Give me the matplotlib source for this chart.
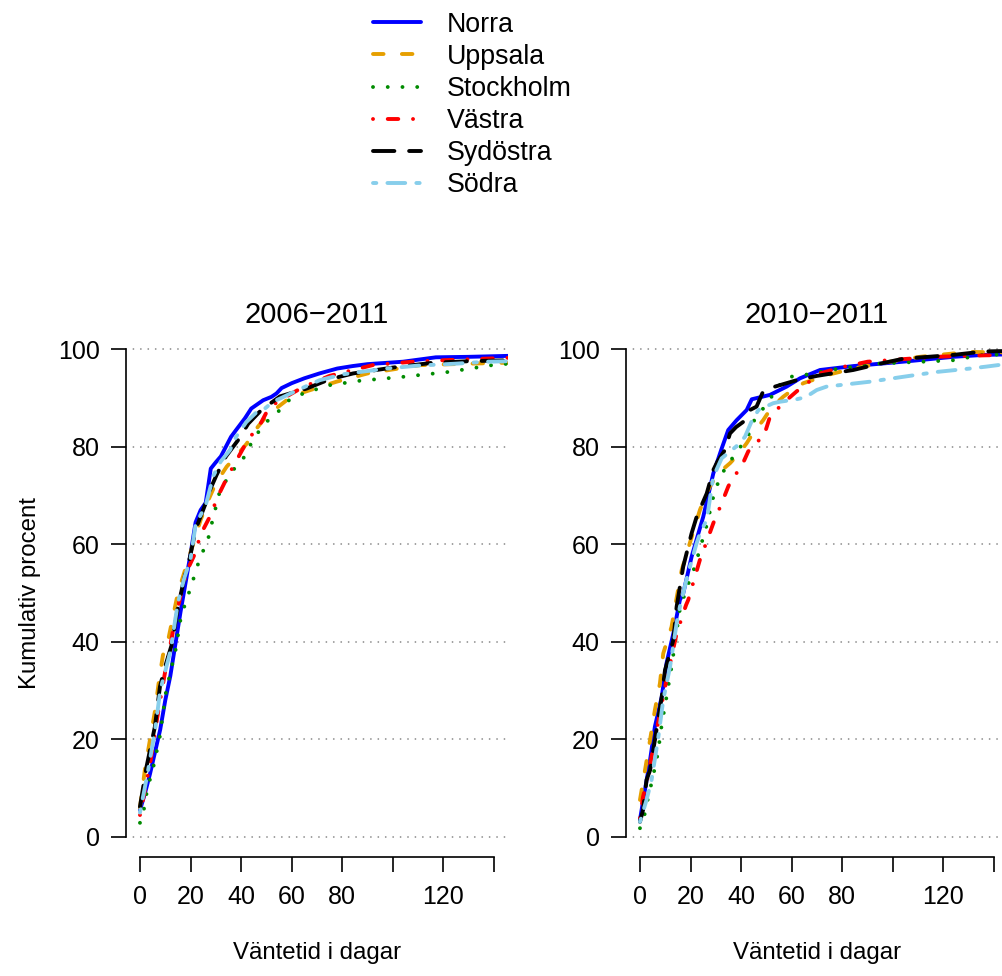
import matplotlib
matplotlib.use('Agg')
import matplotlib.pyplot as plt
from matplotlib.lines import Line2D

plt.rcParams['font.family'] = ['Liberation Sans', 'DejaVu Sans']

regions = ['Norra', 'Uppsala', 'Stockholm', 'Västra', 'Sydöstra', 'Södra']
colors = ['blue', '#E69F00', '#008B00', 'red', 'black', '#87CEEB']
# R line types: solid, dashed "44", dotted "13", dotdash "1343", longdash "73", twodash "2262"
rlty = [None, [4, 4], [1, 3], [1, 3, 4, 3], [7, 3], [2, 2, 6, 2]]
titles = ['2006\u22122011', '2010\u22122011']
xticks = [0, 20, 40, 60, 80, 100, 120, 140]
xticklabels = ['0', '20', '40', '60', '80', '', '120', '']
yticks = [0, 20, 40, 60, 80, 100]

# ---- 2006-2011 ----
norra_x_a = [0, 2, 4, 6, 8, 10, 12, 14, 16, 18, 20, 22, 24, 26, 28, 30, 32, 34, 36, 38, 41.5, 44, 48.7, 52, 54, 56, 60, 65, 71, 78, 84, 90, 104, 117, 130, 146, 160]
norra_y_a = [5.5, 9, 13, 17.5, 22, 28, 33, 39.5, 46, 52, 58, 64.5, 67, 68.5, 75.5, 76.8, 78, 80, 82, 83.4, 85.8, 87.8, 89.5, 90.2, 90.9, 92, 93, 94, 95, 96, 96.5, 96.9, 97.4, 98.3, 98.4, 98.6, 98.7]
upps_x_a = [0, 2, 3.95, 6, 7.5, 9.1, 11, 13, 15, 18, 21, 24, 27, 30, 34.3, 38, 42.2, 45, 48.7, 53, 58, 65, 77.7, 90, 110.7, 130, 146, 160]
upps_y_a = [6, 14, 19.9, 26, 32, 37.3, 40, 45, 50, 55, 60, 65, 69, 72.5, 75.9, 78, 80.6, 83, 85.4, 87.5, 89.5, 91.2, 93.3, 95, 96.7, 97, 97.2, 97.4]
sthlm_x_a = [0, 1.6, 2.6, 3.95, 5.5, 7.9, 10.3, 14.2, 16.1, 18, 20, 23, 27.3, 28.6, 31.4, 34, 37.6, 41.3, 43.9, 47.1, 50.7, 54.9, 58.6, 65, 75.1, 87, 104, 122, 139.3, 146, 160]
sthlm_y_a = [2.9, 5.8, 8.9, 11.8, 14.8, 20.7, 29.8, 38.6, 44.8, 48, 51, 56, 61.7, 64.7, 70.5, 73, 75.7, 77.9, 80.6, 83.2, 85.4, 87.3, 89.4, 91, 92.6, 93.5, 94.3, 95.3, 96.7, 97, 97.2]
vast_x_a = [0, 4, 7, 10, 13, 16.5, 19, 21.7, 24, 27.7, 31, 34.3, 38, 41.5, 45, 48, 51, 57, 64.5, 75, 92, 110, 130, 146, 160]
vast_y_a = [4.5, 15, 25, 34, 42, 50.6, 55, 58, 62, 65.7, 70, 73.5, 77, 80.3, 83, 85, 88, 90, 92.2, 94.5, 96.7, 97.5, 97.9, 98.2, 98.4]
sydo_x_a = [0, 2.6, 5.9, 7.9, 10, 12.5, 15, 17.5, 19.8, 22, 25.7, 28, 30.3, 34, 38.9, 42.8, 48, 55.4, 60, 65.9, 75, 84.3, 100, 116, 130, 146, 160]
sydo_y_a = [6.2, 14.4, 22.6, 30.8, 35, 39.3, 47, 53, 57.4, 63, 68, 71.5, 74.2, 78, 81.4, 84.7, 87.5, 90.3, 91, 91.9, 93.8, 95, 96.2, 97.2, 97.5, 97.7, 97.9]
sodra_x_a = [0, 3, 6, 8, 10, 12, 15, 17.5, 20, 22, 26, 29, 32, 35.6, 38, 42, 46, 48.7, 52.6, 56, 62, 71, 80, 90, 97.5, 110, 125, 137, 146, 160]
sodra_y_a = [5, 13, 22, 30, 34, 38, 48, 53, 57, 64, 68, 74, 77, 79.3, 82, 85, 87, 87.5, 89.2, 90, 91.5, 93.6, 94.8, 95.5, 96, 96.6, 97, 97.4, 97.5, 97.7]

# ---- 2010-2011 ----
norra_x_b = [0, 1.3, 4, 5.9, 8.6, 10.5, 13.2, 15.8, 17.1, 20.4, 25, 29, 32.3, 34.9, 38.2, 42.2, 44.2, 51.4, 58, 63.3, 71.2, 84.3, 104, 123.9, 136, 146, 160]
norra_y_b = [3.5, 7.6, 15.8, 22.6, 28.7, 35.6, 41.7, 48.6, 49.9, 57.4, 65.6, 74.5, 79.6, 83.4, 85.4, 87.5, 89.7, 90.6, 92.3, 94, 95.7, 96.5, 97.4, 98.4, 98.8, 98.9, 99]
upps_x_b = [0, 2, 4, 5.9, 7.9, 9.2, 12.5, 14.5, 16.5, 19, 21.7, 23.7, 26, 28.3, 32, 35.6, 39, 42.2, 45, 48.7, 52, 56.6, 60, 64.6, 75, 84.3, 100, 110.7, 130, 146, 160]
upps_y_b = [7.6, 13.7, 19.9, 26, 31.5, 37.6, 43.1, 49, 54.7, 59, 63.6, 67, 70, 72.5, 75, 76.6, 78.5, 80.7, 83, 85.4, 88, 90.2, 91.5, 93, 94.8, 96, 97.5, 98.4, 99.4, 99.3, 99.4]
sthlm_x_b = [0, 2, 3.2, 5, 7.1, 8.6, 10.5, 12.5, 15.8, 18.5, 21.7, 26.4, 29, 31, 33.6, 36.9, 40.2, 43.2, 45.2, 48.7, 52, 55, 59.3, 65.2, 76.5, 93.4, 111.8, 124, 135, 146, 160]
sthlm_y_b = [1.8, 4.9, 8, 12, 17.2, 23, 28.7, 34.9, 46.8, 51, 55.4, 63.9, 69.7, 72.8, 75.5, 77.9, 80.3, 82.7, 85.4, 87.8, 90.2, 92.5, 94.3, 94.7, 95.8, 97, 97.4, 97.7, 98.8, 98.9, 99]
vast_x_b = [0, 1.2, 3, 5.1, 7.9, 10.5, 14.5, 18.2, 19.1, 21, 23.7, 26, 29, 32, 34.9, 37, 39.5, 42.8, 46, 48.7, 51.4, 56.6, 61.9, 71.2, 80, 90, 116.7, 136, 146, 160]
vast_y_b = [3.9, 8.2, 12, 17.8, 25.4, 32.2, 41.7, 47.5, 48.6, 52, 56.8, 60, 64.3, 68, 71.8, 74, 75.2, 79, 81, 81.7, 86.1, 88.9, 91.3, 95, 96.3, 97.4, 98.4, 98.7, 98.8, 98.9]
sydo_x_b = [0, 1.2, 2.6, 4, 5.9, 8.6, 9.9, 12, 13.2, 14.5, 17.1, 20.4, 22.4, 26.4, 29, 30.6, 33.6, 35.6, 38, 40.9, 43.5, 46.1, 48.7, 53.4, 61.9, 70, 84.3, 95, 104, 124, 136, 146, 160]
sydo_y_b = [3.1, 5.5, 11.7, 13.7, 19.9, 28.7, 34.2, 38, 40.4, 47.2, 55.4, 62.2, 65.6, 70.4, 75.2, 76.9, 79.3, 82.7, 84, 85.1, 87.5, 88.2, 91.3, 92.3, 93.6, 94.5, 95.7, 97, 98, 98.8, 99.5, 99.6, 99.7]
sodra_x_b = [0, 2.6, 4.6, 7.3, 9.2, 11.9, 14.5, 15.8, 19, 22.4, 23.7, 26.4, 29, 32.3, 35.6, 38, 41.5, 44, 46.8, 52.7, 55.4, 62, 65.9, 67.5, 69.9, 73.8, 90.9, 104, 117.3, 130.5, 137, 146, 160]
sodra_y_b = [3.1, 7.6, 11.7, 20.6, 28.1, 34.9, 43.8, 47.2, 54, 60.2, 62.2, 65, 73.8, 77.6, 79, 80, 82, 85, 87.5, 88.9, 89.2, 89.7, 90.2, 90.8, 91.6, 92.3, 93.3, 94.3, 95.3, 96, 96.4, 97, 97.3]

panels = [
    [(norra_x_a, norra_y_a), (upps_x_a, upps_y_a), (sthlm_x_a, sthlm_y_a),
     (vast_x_a, vast_y_a), (sydo_x_a, sydo_y_a), (sodra_x_a, sodra_y_a)],
    [(norra_x_b, norra_y_b), (upps_x_b, upps_y_b), (sthlm_x_b, sthlm_y_b),
     (vast_x_b, vast_y_b), (sydo_x_b, sydo_y_b), (sodra_x_b, sodra_y_b)],
]

W, H = 1002, 976
lw = 2.8      # line width in points
unit = 2.6    # R dash unit in points


def rdash(pattern):
    # convert an R lty pattern to matplotlib dashes (in lw units), allowing for round caps
    if pattern is None:
        return '-'
    seq = []
    for i, n in enumerate(pattern):
        if i % 2 == 0:
            seq.append(max(n * unit - lw, 0.01) / lw)
        else:
            seq.append((n * unit + lw) / lw)
    return (0, tuple(seq))


styles = [rdash(p) for p in rlty]

fig = plt.figure(figsize=(W / 100, H / 100), dpi=100)

for p, lefts in enumerate([125.8, 625.8]):
    ax = fig.add_axes([lefts / W, (H - 856.5) / H, 382.4 / W, 527 / H])
    for yt in yticks:
        ax.axhline(yt, color='#8C8C8C', lw=1.3, linestyle=(0, (0.01, 4.1)),
                   dash_capstyle='round', zorder=1)
    for (xs, ys), c, ls in zip(panels[p], colors, styles):
        ax.plot(xs, ys, color=c, lw=lw, linestyle=ls, dash_capstyle='round',
                solid_capstyle='round', solid_joinstyle='round', zorder=2)
    ax.set_xlim(-5.6, 145.6)
    ax.set_ylim(-4, 104)
    for s in ['top', 'right']:
        ax.spines[s].set_visible(False)
    ax.spines['left'].set_bounds(0, 100)
    ax.spines['bottom'].set_bounds(0, 140)
    ax.spines['left'].set_linewidth(1.2)
    ax.spines['bottom'].set_linewidth(1.2)
    ax.set_xticks(xticks)
    ax.set_xticklabels(xticklabels)
    ax.set_yticks(yticks)
    ax.tick_params(axis='both', direction='out', length=10.8, width=1.2, labelsize=18)
    ax.tick_params(axis='x', pad=10)
    ax.tick_params(axis='y', pad=8)
    ax.set_title(titles[p], fontsize=21, pad=4.5)
    ax.set_xlabel('Väntetid i dagar', fontsize=17.3)
    ax.xaxis.set_label_coords(0.5, -0.1615)
    if p == 0:
        ax.set_ylabel('Kumulativ procent', fontsize=17.3)
        ax.yaxis.set_label_coords(-0.222, 0.5)

# legend at top
leg_y = [22.3, 54.4, 86.5, 118.6, 150.7, 182.8]
for name, c, ls, yy in zip(regions, colors, styles, leg_y):
    fig.add_artist(Line2D([373 / W, 421 / W], [1 - yy / H, 1 - yy / H],
                          transform=fig.transFigure, color=c, lw=lw, linestyle=ls,
                          dash_capstyle='round', solid_capstyle='round'))
    fig.text(447 / W, 1 - (yy + 9.6) / H, name, fontsize=19.3, ha='left', va='baseline')

fig.savefig('out.png', dpi=100)
